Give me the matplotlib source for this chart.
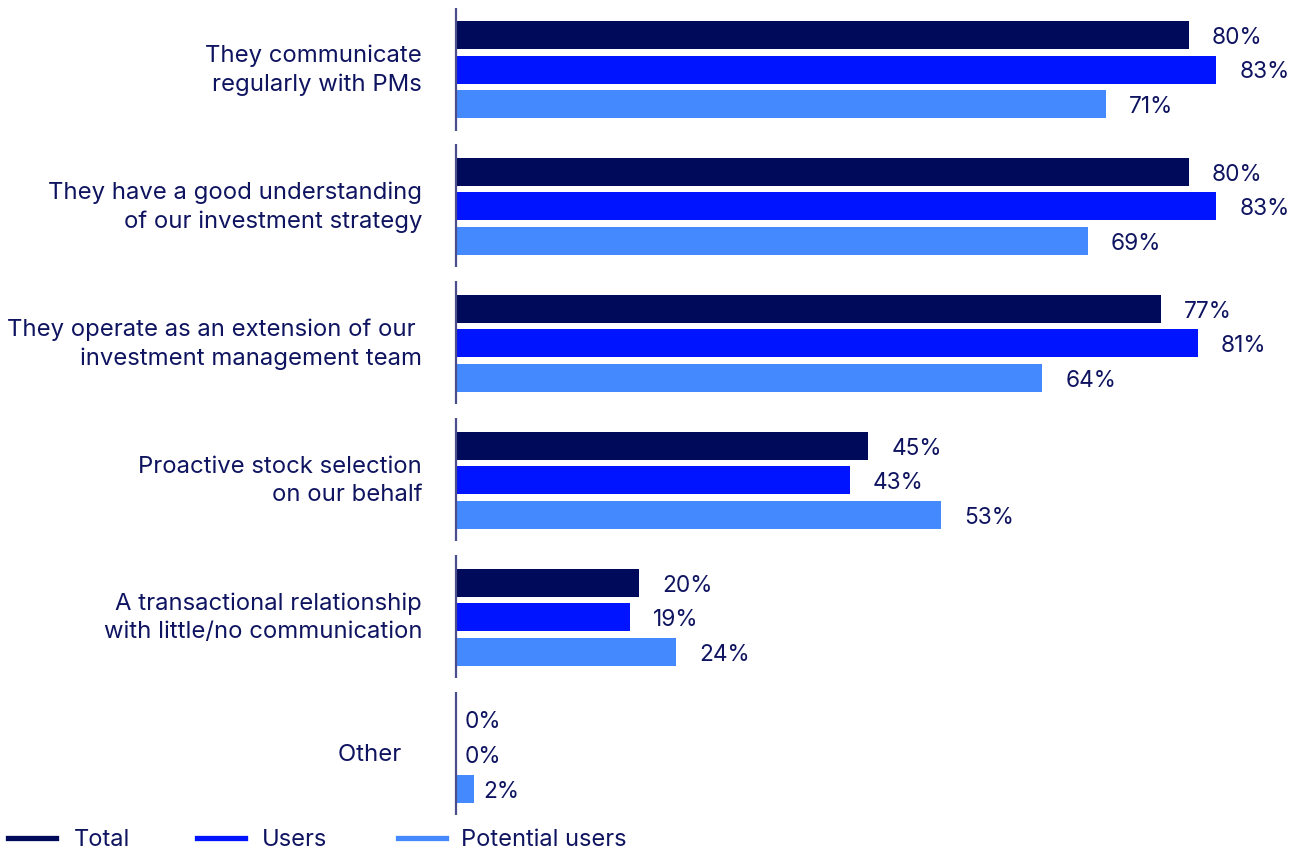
import matplotlib.pyplot as plt
from matplotlib.lines import Line2D

plt.rcParams['font.family'] = ['Inter', 'DejaVu Sans']

categories = [
    "They communicate\nregularly with PMs",
    "They have a good understanding\nof our investment strategy",
    "They operate as an extension of our \ninvestment management team",
    "Proactive stock selection\non our behalf",
    "A transactional relationship\nwith little/no communication",
    "Other   ",
]
series_names = ["Total", "Users", "Potential users"]
total = [80, 80, 77, 45, 20, 0]
users = [83, 83, 81, 43, 19, 0]
potential = [71, 69, 64, 53, 24, 2]

colors = ["#000A5A", "#0014FF", "#4589FF"]
text_color = "#0F1460"

W, H = 1294, 849
fig = plt.figure(figsize=(W / 100, H / 100), dpi=100)

# axes: zero line at x=456px, 9.16 px per percent
x0 = 456
px_per_pct = 9.16
ax = fig.add_axes([x0 / W, 0, 1 - x0 / W, 1])
ax.set_xlim(0, (W - x0) / px_per_pct)
group_px = 136.9
top_center = 69.5
ax.set_ylim(5 + (H - 754) / group_px, -top_center / group_px)
ax.axis('off')

pitch = 34.5 / group_px
bar_h = 28 / group_px
for s, (vals, col) in enumerate(zip([total, users, potential], colors)):
    for i, v in enumerate(vals):
        y = i + (s - 1) * pitch
        ax.barh(y, v, height=bar_h, color=col, left=0)
        off = 23 if v >= 5 else 9
        ax.annotate(f"{v}%", (v, y), xytext=(off, -3), textcoords='offset pixels',
                    ha='left', va='center', fontsize=16.3, color=text_color)

# broken axis line, one segment per group
for i in range(len(categories)):
    ax.plot([0, 0], [i - 62 / group_px, i + 61 / group_px], color="#4A4F8C",
            lw=1.6, solid_capstyle='butt', clip_on=False)
    ax.annotate(categories[i], (0, i), xytext=(-34, -1), textcoords='offset pixels',
                ha='right', va='center', fontsize=17.2, color=text_color,
                linespacing=1.35)

# legend along the bottom
leg_y = 1 - 838 / H
for (xa, xb, xt), name, col in zip([(8, 56, 74), (197, 245, 262), (398, 446, 461)],
                                   series_names, colors):
    fig.add_artist(Line2D([xa / W, xb / W], [leg_y, leg_y], color=col, lw=3.8,
                          transform=fig.transFigure))
    fig.text(xt / W, leg_y - 2 / H, name, ha='left', va='center', fontsize=17,
             color=text_color)

fig.savefig("out.png", dpi=100)
